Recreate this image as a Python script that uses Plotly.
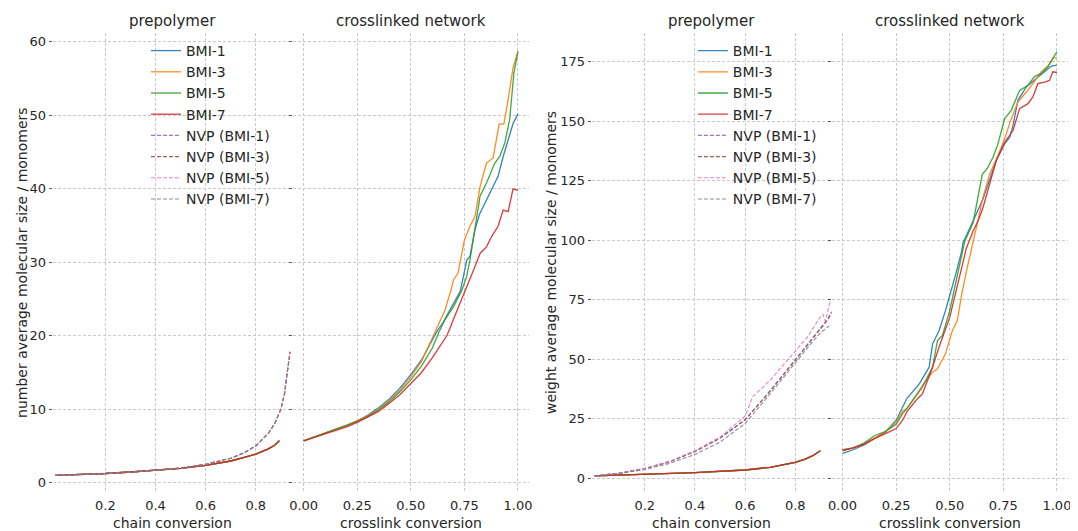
import plotly.graph_objects as go

# ---------------- data ----------------
series_names = ["BMI-1", "BMI-3", "BMI-5", "BMI-7"]
nvp_names = ["NVP (BMI-1)", "NVP (BMI-3)", "NVP (BMI-5)", "NVP (BMI-7)"]
bmi_colors = ["#1f77b4", "#ff7f0e", "#2ca02c", "#d62728"]
nvp_colors = ["#9467bd", "#8c564b", "#e377c2", "#7f7f7f"]

# number average, prepolymer (chain conversion)
chain_bmi_n = [0, 0.1, 0.2, 0.3, 0.4, 0.5, 0.6, 0.7, 0.75, 0.8, 0.85, 0.875, 0.894]
mn_bmi_pre = [1.0, 1.1, 1.25, 1.45, 1.68, 1.95, 2.35, 2.95, 3.4, 3.9, 4.6, 5.1, 5.7]
chain_nvp_n = [0, 0.1, 0.2, 0.3, 0.4, 0.5, 0.6, 0.7, 0.75, 0.8, 0.85, 0.875, 0.9, 0.915, 0.925, 0.937]
mn_nvp_pre = [1.0, 1.11, 1.25, 1.43, 1.67, 2.0, 2.5, 3.33, 4.0, 5.0, 6.7, 8.0, 10.0, 12.2, 14.9, 17.8]

# number average, crosslinked network (crosslink conversion)
xl_n_b1 = [0, 0.1, 0.2, 0.25, 0.3, 0.35, 0.4, 0.45, 0.5, 0.55, 0.6, 0.62, 0.65, 0.68, 0.7, 0.73, 0.745,
           0.761, 0.776, 0.799, 0.82, 0.846, 0.877, 0.907, 0.931, 0.954, 0.977, 1.0]
mn_xl_b1 = [5.7, 6.7, 7.8, 8.4, 9.2, 10.2, 11.4, 12.9, 14.7, 16.7, 19.3, 20.5, 21.8, 23.3, 24.4, 26.0, 28.0,
            30.3, 30.8, 34.4, 36.5, 38.0, 39.9, 41.7, 44.4, 46.7, 48.9, 50.2]
xl_n_b3 = [0, 0.1, 0.2, 0.25, 0.3, 0.35, 0.4, 0.45, 0.5, 0.55, 0.6, 0.63, 0.66, 0.69, 0.699, 0.72, 0.75,
           0.776, 0.799, 0.823, 0.853, 0.884, 0.912, 0.934, 0.954, 0.977, 1.0]
mn_xl_b3 = [5.7, 6.7, 7.8, 8.4, 9.1, 10.0, 11.2, 12.6, 14.4, 16.5, 19.6, 21.5, 23.5, 26.5, 27.6, 28.5, 33.0,
            34.9, 36.2, 40.3, 43.5, 44.2, 48.8, 48.8, 52.1, 56.5, 58.7]
xl_n_b5 = [0, 0.1, 0.2, 0.25, 0.3, 0.35, 0.4, 0.45, 0.5, 0.55, 0.6, 0.63, 0.66, 0.7, 0.738, 0.76, 0.776,
           0.799, 0.823, 0.853, 0.892, 0.915, 0.938, 0.961, 0.981, 1.0]
mn_xl_b5 = [5.7, 6.7, 7.8, 8.3, 9.0, 9.9, 11.0, 12.4, 14.0, 15.9, 18.3, 20.4, 22.2, 24.0, 26.2, 28.0, 30.3,
            34.4, 39.0, 40.8, 43.5, 44.4, 46.2, 49.4, 55.8, 58.7]
xl_n_b7 = [0, 0.1, 0.2, 0.25, 0.3, 0.35, 0.4, 0.45, 0.5, 0.55, 0.6, 0.65, 0.67, 0.7, 0.75, 0.799, 0.823,
           0.853, 0.877, 0.907, 0.931, 0.954, 0.977, 1.0]
mn_xl_b7 = [5.7, 6.6, 7.6, 8.2, 8.9, 9.7, 10.8, 12.0, 13.5, 15.0, 17.0, 19.3, 20.1, 22.3, 25.8, 29.4, 31.2,
            32.1, 33.5, 34.9, 37.1, 36.9, 40.0, 39.8]

# weight average, prepolymer
chain_bmi_w = [0, 0.2, 0.4, 0.6, 0.7, 0.8, 0.84, 0.87, 0.9]
mw_bmi_pre = [1.0, 1.7, 2.4, 3.5, 4.6, 6.7, 8.1, 9.5, 11.6]
chain_nvp1_w = [0, 0.1, 0.2, 0.3, 0.4, 0.5, 0.6, 0.7, 0.8, 0.85, 0.9, 0.93, 0.945]
mw_nvp1_pre = [1.0, 2.2, 4.1, 7.0, 11.2, 16.8, 24.5, 36.5, 49.5, 56.0, 62.5, 66.5, 69.5]
chain_nvp3_w = [0, 0.1, 0.2, 0.3, 0.4, 0.5, 0.6, 0.7, 0.8, 0.85, 0.9, 0.93, 0.945]
mw_nvp3_pre = [1.0, 2.2, 4.1, 7.0, 11.3, 16.9, 24.6, 36.8, 49.8, 56.3, 63.0, 67.0, 70.0]
chain_nvp5_w = [0, 0.1, 0.2, 0.3, 0.4, 0.5, 0.6, 0.63, 0.7, 0.8, 0.85, 0.895, 0.91, 0.92, 0.94]
mw_nvp5_pre = [1.0, 2.2, 4.2, 7.2, 11.6, 17.3, 26.1, 34.2, 41.2, 53.1, 59.5, 67.0, 69.0, 66.0, 74.7]
chain_nvp7_w = [0, 0.1, 0.2, 0.3, 0.4, 0.5, 0.6, 0.7, 0.8, 0.85, 0.9, 0.935]
mw_nvp7_pre = [1.0, 2.0, 3.7, 6.3, 10.0, 15.2, 23.0, 35.5, 48.5, 55.0, 61.0, 64.0]

# weight average, crosslinked network
xl_w_b1 = [0, 0.05, 0.1, 0.15, 0.2, 0.25, 0.28, 0.3, 0.358, 0.404, 0.42, 0.45, 0.48, 0.5, 0.528, 0.556,
           0.562, 0.609, 0.655, 0.717, 0.756, 0.78, 0.795, 0.818, 0.857, 0.904, 0.95, 0.974, 1.0]
mw_xl_b1 = [10.5, 12.0, 14.0, 16.7, 19.5, 24.4, 30.0, 33.5, 39.7, 46.7, 56.5, 62.0, 70.4, 76.7, 85.8, 95.5,
            99.0, 108.1, 117.3, 133.5, 140.5, 143.3, 148.2, 158.8, 164.4, 168.0, 171.5, 173.2, 173.6]
xl_w_b3 = [0, 0.05, 0.1, 0.15, 0.2, 0.25, 0.28, 0.3, 0.358, 0.373, 0.42, 0.443, 0.48, 0.512, 0.535, 0.556,
           0.578, 0.601, 0.624, 0.655, 0.686, 0.725, 0.756, 0.787, 0.818, 0.857, 0.888, 0.927, 0.958, 0.981, 1.0]
mw_xl_b3 = [11.9, 12.8, 14.5, 16.8, 19.6, 23.4, 28.3, 29.3, 37.0, 39.0, 44.6, 46.0, 52.3, 62.0, 66.2, 77.4,
            87.0, 96.8, 105.3, 118.0, 127.8, 135.6, 142.6, 151.1, 158.1, 162.3, 165.8, 170.8, 173.2, 176.4, 176.8]
xl_w_b5 = [0, 0.05, 0.1, 0.15, 0.2, 0.25, 0.28, 0.3, 0.373, 0.42, 0.443, 0.466, 0.5, 0.539, 0.57, 0.609,
           0.652, 0.674, 0.702, 0.725, 0.756, 0.787, 0.826, 0.865, 0.896, 0.927, 0.958, 0.981, 1.0]
mw_xl_b5 = [11.5, 12.8, 14.8, 18.0, 19.6, 22.7, 27.2, 29.3, 38.4, 46.7, 57.9, 60.0, 70.4, 87.0, 99.6, 107.4,
            127.8, 130.0, 134.9, 140.5, 151.1, 154.6, 163.0, 165.1, 168.9, 170.0, 172.9, 176.4, 179.2]
xl_w_b7 = [0, 0.05, 0.1, 0.15, 0.2, 0.25, 0.28, 0.3, 0.343, 0.373, 0.42, 0.45, 0.5, 0.556, 0.578, 0.609,
           0.632, 0.655, 0.679, 0.717, 0.756, 0.795, 0.826, 0.865, 0.888, 0.911, 0.942, 0.966, 0.981, 1.0]
mw_xl_b7 = [11.9, 12.8, 14.3, 16.8, 18.8, 20.9, 24.4, 27.9, 32.8, 35.6, 46.7, 55.1, 67.6, 89.0, 96.8, 103.9,
            108.1, 113.7, 121.5, 133.5, 141.2, 146.1, 155.3, 157.4, 160.2, 165.8, 166.5, 167.2, 170.8, 170.5]

x_ticks_chain = [0.2, 0.4, 0.6, 0.8]
x_ticks_xl = [0.0, 0.25, 0.5, 0.75, 1.0]
y_ticks_n = [0, 10, 20, 30, 40, 50, 60]
y_ticks_w = [0, 25, 50, 75, 100, 125, 150, 175]

# ---------------- figure ----------------
PAGE_W, PAGE_H = 1078, 531
OFF = 8                      # default page body margin (figure starts at page pixel 8, 8)
W, H = PAGE_W - OFF, PAGE_H - OFF
FONT = "DejaVu Sans"
TXT = "#262626"


def fx(p):
    """page x pixel -> paper fraction"""
    return min(1.0, max(0.0, (p - OFF) / W))


def fy(p):
    """page y pixel -> paper fraction"""
    return min(1.0, max(0.0, 1 - (p - OFF) / H))


fig = go.Figure()
SOLID_W = 1.3
DASH_W = 1.1
DASH = "4px,2px"

# left figure: number average
for name, col in zip(series_names, bmi_colors):
    fig.add_trace(go.Scatter(x=chain_bmi_n, y=mn_bmi_pre, mode="lines", name=name,
                             line=dict(color=col, width=SOLID_W), opacity=0.9,
                             xaxis="x", yaxis="y", legend="legend"))
for name, col in zip(nvp_names, nvp_colors):
    fig.add_trace(go.Scatter(x=chain_nvp_n, y=mn_nvp_pre, mode="lines", name=name,
                             line=dict(color=col, width=DASH_W, dash=DASH), opacity=0.9,
                             xaxis="x", yaxis="y", legend="legend"))
for xs, ys, name, col in zip([xl_n_b1, xl_n_b3, xl_n_b5, xl_n_b7],
                             [mn_xl_b1, mn_xl_b3, mn_xl_b5, mn_xl_b7], series_names, bmi_colors):
    fig.add_trace(go.Scatter(x=xs, y=ys, mode="lines", name=name, showlegend=False,
                             line=dict(color=col, width=SOLID_W), opacity=0.9,
                             xaxis="x2", yaxis="y2"))

# right figure: weight average
for name, col in zip(series_names, bmi_colors):
    fig.add_trace(go.Scatter(x=chain_bmi_w, y=mw_bmi_pre, mode="lines", name=name,
                             line=dict(color=col, width=SOLID_W), opacity=0.9,
                             xaxis="x3", yaxis="y3", legend="legend2"))
for xs, ys, name, col in zip([chain_nvp1_w, chain_nvp3_w, chain_nvp5_w, chain_nvp7_w],
                             [mw_nvp1_pre, mw_nvp3_pre, mw_nvp5_pre, mw_nvp7_pre], nvp_names, nvp_colors):
    fig.add_trace(go.Scatter(x=xs, y=ys, mode="lines", name=name,
                             line=dict(color=col, width=DASH_W, dash=DASH), opacity=0.9,
                             xaxis="x3", yaxis="y3", legend="legend2"))
for xs, ys, name, col in zip([xl_w_b1, xl_w_b3, xl_w_b5, xl_w_b7],
                             [mw_xl_b1, mw_xl_b3, mw_xl_b5, mw_xl_b7], series_names, bmi_colors):
    fig.add_trace(go.Scatter(x=xs, y=ys, mode="lines", name=name, showlegend=False,
                             line=dict(color=col, width=SOLID_W), opacity=0.9,
                             xaxis="x4", yaxis="y4"))

grid = dict(showgrid=True, gridcolor="#c9c9c9", gridwidth=0.8, griddash="3px,2px",
            zeroline=False, showline=False,
            tickfont=dict(family=FONT, size=13, color=TXT))

y_dom = [fy(492), fy(32.5)]
xd1 = [fx(49), fx(291)]
xd2 = [fx(291), fx(528.6)]
xd3 = [fx(592), fx(834)]
xd4 = [fx(834), fx(1071.6)]

ytick = dict(ticks="outside", ticklen=3, tickcolor="#555555", tickwidth=1)
xtick = dict(ticks="", ticklabelstandoff=4)

fig.update_layout(
    width=W, height=H,
    margin=dict(l=0, r=0, t=0, b=0),
    paper_bgcolor="white", plot_bgcolor="white",
    font=dict(family=FONT, color=TXT),
    xaxis=dict(domain=xd1, anchor="y", range=[-0.0103, 0.948], tickvals=x_ticks_chain,
               ticktext=[f"{v:.1f}" for v in x_ticks_chain], **xtick, **grid),
    xaxis2=dict(domain=xd2, anchor="y2", range=[-0.05, 1.05], tickvals=x_ticks_xl,
                ticktext=[f"{v:.2f}" for v in x_ticks_xl], **xtick, **grid),
    xaxis3=dict(domain=xd3, anchor="y3", range=[-0.012, 0.946], tickvals=x_ticks_chain,
                ticktext=[f"{v:.1f}" for v in x_ticks_chain], **xtick, **grid),
    xaxis4=dict(domain=xd4, anchor="y4", range=[-0.05, 1.05], tickvals=x_ticks_xl,
                ticktext=[f"{v:.2f}" for v in x_ticks_xl], **xtick, **grid),
    yaxis=dict(domain=y_dom, anchor="x", range=[-1.27, 61.28], tickvals=y_ticks_n, **ytick, **grid),
    yaxis2=dict(domain=y_dom, anchor="x2", range=[-1.27, 61.28], tickvals=y_ticks_n,
                showticklabels=False, **ytick, **grid),
    yaxis3=dict(domain=y_dom, anchor="x3", range=[-5.75, 187.3], tickvals=y_ticks_w, **ytick, **grid),
    yaxis4=dict(domain=y_dom, anchor="x4", range=[-5.75, 187.3], tickvals=y_ticks_w,
                showticklabels=False, **ytick, **grid),
    legend=dict(x=fx(143), y=fy(35), xanchor="left", yanchor="top", bgcolor="rgba(0,0,0,0)",
                font=dict(family=FONT, size=14, color=TXT), itemwidth=30, tracegroupgap=0),
    legend2=dict(x=fx(694), y=fy(35), xanchor="left", yanchor="top", bgcolor="rgba(0,0,0,0)",
                 font=dict(family=FONT, size=14, color=TXT), itemwidth=30, tracegroupgap=0),
    showlegend=True,
)

annos = [
    ("prepolymer", 170, 21, 15, 0),
    ("crosslinked network", 410, 21, 15, 0),
    ("prepolymer", 713, 21, 15, 0),
    ("crosslinked network", 953, 21, 15, 0),
    ("chain conversion", 170, 523, 14, 0),
    ("crosslink conversion", 410, 523, 14, 0),
    ("chain conversion", 713, 523, 14, 0),
    ("crosslink conversion", 953, 523, 14, 0),
    ("number average molecular size / monomers", 18, 262, 14, -90),
    ("weight average molecular size / monomers", 551, 262, 14, -90),
]
for text, ax, ay, size, rot in annos:
    fig.add_annotation(text=text, x=fx(ax), y=fy(ay), xref="paper", yref="paper",
                       xanchor="center", yanchor="middle", showarrow=False, textangle=rot,
                       font=dict(family=FONT, size=size, color=TXT))

fig.write_html("out.html")
